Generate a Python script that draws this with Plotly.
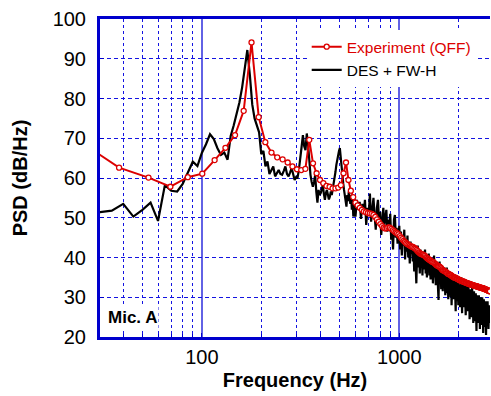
import numpy as np
import plotly.graph_objects as go

# ---------------- data ----------------
# Experiment (QFF): frequency grid of ~15.6 Hz
exp_freq = [22.5 + 15.6 * k for k in range(184)]
exp_psd = [
    70.2, 62.6, 60.1, 57.8, 60.2, 61.1, 64.5, 67.6, 70.8, 76.9,
    94.1, 75.3, 69.0, 66.4, 65.2, 64.7, 63.9, 62.9, 62.2, 62.0,
    62.3, 69.6, 63.7, 61.2, 59.5, 58.7, 58.0, 57.8, 57.4, 57.4,
    57.6, 58.2, 61.2, 63.9, 59.5, 56.8, 55.2, 53.8, 53.1, 52.5,
    52.0, 51.6, 51.4, 51.2, 51.1, 51.0, 50.7, 50.2, 49.6, 49.0,
    48.4, 47.9, 47.5, 47.3, 47.4, 47.6, 47.5, 47.2, 46.9, 46.6,
    46.3, 46.1, 45.8, 45.4, 45.0, 44.6, 44.2, 43.9, 43.6, 43.4,
    43.2, 43.0, 42.8, 42.7, 42.6, 42.4, 42.2, 41.9, 41.6, 41.3,
    41.1, 40.9, 40.8, 40.7, 40.6, 40.4, 40.1, 39.9, 39.7, 39.5,
    39.4, 39.2, 39.0, 38.9, 38.8, 38.6, 38.4, 38.2, 38.0, 37.9,
    37.8, 37.7, 37.5, 37.3, 37.0, 36.8, 36.7, 36.6, 36.5, 36.4,
    36.2, 36.0, 35.9, 35.8, 35.7, 35.6, 35.5, 35.3, 35.2, 35.1,
    35.0, 34.9, 34.9, 34.8, 34.7, 34.6, 34.5, 34.4, 34.3, 34.3,
    34.2, 34.1, 34.0, 34.0, 33.9, 33.9, 33.8, 33.7, 33.7, 33.6,
    33.5, 33.5, 33.4, 33.4, 33.3, 33.3, 33.2, 33.2, 33.1, 33.1,
    33.0, 33.0, 32.9, 32.9, 32.8, 32.8, 32.8, 32.7, 32.7, 32.6,
    32.6, 32.5, 32.5, 32.5, 32.4, 32.4, 32.3, 32.3, 32.3, 32.2,
    32.2, 32.1, 32.1, 32.0, 32.0, 31.9, 31.9, 31.8, 31.8, 31.7,
    31.6, 31.6, 31.5, 31.5,
]

# DES + FW-H: 5 Hz grid up to 595 Hz, then 10 Hz grid
des_freq = list(range(30, 600, 5)) + list(range(600, 2890, 10))
des_psd_low = [
    51.4, 51.8, 53.5, 50.3, 52.0, 53.8, 49.2, 58.2, 56.8, 56.6,
    58.5, 61.5, 64.1, 63.0, 66.3, 68.5, 71.0, 69.8, 67.5, 65.8,
    66.4, 64.6, 70.6, 73.2, 76.0, 79.0, 82.8, 88.0, 92.2, 86.0,
    78.5, 75.0, 73.2, 71.5, 66.0, 66.8, 62.9, 64.2, 61.0, 62.0,
    62.9, 60.4, 61.3, 62.0, 61.0, 60.8, 61.8, 62.9, 61.0, 60.4,
    61.4, 62.5, 61.0, 59.5, 60.2, 59.9, 62.0, 64.5, 67.8, 70.8,
    68.0, 67.0, 71.2, 68.5, 63.0, 60.8, 59.0, 57.8, 59.0, 60.8,
    56.5, 53.8, 57.0, 55.7, 56.2, 57.0, 58.2, 56.0, 54.5, 56.2,
    57.0, 55.8, 54.6, 55.3, 56.6, 55.7, 57.0, 58.5, 60.0, 61.5,
    63.3, 64.8, 66.2, 66.8, 67.5, 65.0, 62.0, 60.0, 58.7, 57.0,
    55.3, 54.0, 52.8, 55.7, 54.2, 56.6, 55.0, 53.5, 55.7, 52.0,
    54.8, 50.3, 53.0, 54.5,
]
des_psd_high = [
    50.3, 54.5, 52.0, 54.0, 49.7, 53.5, 51.0, 54.5, 48.2, 52.5,
    50.5, 56.1, 49.0, 53.0, 55.0, 50.5, 47.0, 52.5, 54.5, 49.0,
    51.5, 45.7, 50.0, 52.5, 48.0, 50.5, 52.0, 46.5, 49.5, 48.2,
    51.0, 44.5, 46.9, 42.0, 49.5, 50.7, 45.0, 47.5, 43.5, 44.4,
    48.0, 42.0, 46.5, 40.5, 45.0, 43.0, 47.0, 39.5, 44.0, 41.5,
    45.5, 40.0, 43.5, 38.5, 44.0, 41.0, 43.0, 39.0, 42.5, 36.5,
    41.5, 38.0, 33.5, 40.5, 43.0, 37.5, 41.0, 36.0, 42.0, 38.5,
    40.0, 35.5, 41.5, 37.0, 39.5, 42.0, 36.0, 39.0, 35.0, 40.5,
    37.5, 41.0, 35.5, 38.5, 34.5, 40.0, 36.5, 39.0, 33.5, 38.0,
    40.5, 35.0, 37.5, 33.0, 39.0, 36.0, 38.5, 32.5, 29.3, 36.0,
    39.0, 34.0, 37.0, 32.0, 38.0, 35.0, 31.5, 36.5, 33.0, 37.5,
    34.5, 30.5, 36.0, 33.0, 37.5, 31.0, 35.0, 29.5, 34.5, 36.5,
    32.0, 35.5, 30.0, 34.0, 28.0, 33.5, 36.0, 31.0, 34.5, 29.5,
    33.0, 35.5, 30.5, 26.5, 33.5, 31.0, 35.0, 29.0, 32.5, 28.0,
    34.0, 30.0, 32.5, 27.5, 33.0, 29.0, 35.0, 30.5, 26.0, 32.0,
    29.0, 33.5, 27.5, 31.0, 34.0, 28.5, 31.5, 25.5, 30.5, 33.0,
    28.0, 31.0, 26.5, 30.0, 33.0, 27.0, 30.5, 24.5, 29.0, 32.0,
    27.5, 30.0, 25.0, 29.5, 32.5, 26.5, 29.0, 23.5, 28.5, 31.5,
    27.0, 29.5, 24.0, 28.0, 31.0, 25.5, 21.5, 27.5, 30.5, 26.0,
    29.0, 23.5, 27.0, 30.5, 25.0, 28.5, 22.0, 26.5, 30.0, 24.5,
    28.0, 23.0, 27.5, 30.0, 24.0, 27.0, 21.0, 26.0, 29.5, 23.5,
    27.5, 22.5, 26.0, 29.0, 24.5, 20.5, 25.5, 28.5, 23.0, 26.5,
    29.0, 24.0, 27.0, 22.0, 25.5, 28.0, 23.5, 26.0, 24.0,
]
des_psd = des_psd_low + des_psd_high

x_major_ticks = [100, 1000]
x_minor_ticks = [40, 50, 60, 70, 80, 90, 200, 300, 400, 500, 600, 700, 800, 900, 2000]
y_ticks = [20, 30, 40, 50, 60, 70, 80, 90, 100]

# ---------------- figure ----------------
BLUE = "rgb(0,0,205)"
GRID = "rgb(20,20,225)"
FONT = "Liberation Sans, Arial, sans-serif"

fig = go.Figure()
fig.add_trace(go.Scatter(
    x=des_freq, y=des_psd, mode="lines", name="DES + FW-H",
    line=dict(color="black", width=2.2),
))
fig.add_trace(go.Scatter(
    x=exp_freq, y=exp_psd, mode="lines+markers",
    name="<span style='color:rgb(220,0,0)'>Experiment (QFF)</span>",
    line=dict(color="rgb(220,0,0)", width=2),
    marker=dict(symbol="circle", size=5, color="white",
                line=dict(color="rgb(220,0,0)", width=1.3)),
))

fig.update_xaxes(
    type="log", range=[np.log10(30.5), np.log10(2880)],
    tickvals=x_major_ticks, ticktext=[str(v) for v in x_major_ticks],
    showgrid=True, gridcolor="rgba(70,70,225,0.85)", gridwidth=1.5,
    minor=dict(tickvals=x_minor_ticks, showgrid=True, gridcolor=GRID,
               griddash="3px,3px", gridwidth=1, ticks="inside", ticklen=3,
               tickcolor=BLUE),
    showline=True, linecolor=BLUE, linewidth=3, mirror=True,
    ticks="inside", ticklen=4, tickcolor=BLUE,
    zeroline=False,
    tickfont=dict(family=FONT, size=20, color="black"),
    title=dict(text="<b>Frequency (Hz)</b>", font=dict(family=FONT, size=20, color="black"),
               standoff=6),
)
fig.update_yaxes(
    range=[20, 100], tickvals=y_ticks,
    showgrid=True, gridcolor=GRID, griddash="4px,3px", gridwidth=1,
    showline=True, linecolor=BLUE, linewidth=3, mirror=False,
    ticks="inside", ticklen=4, tickcolor=BLUE,
    zeroline=False,
    ticklabelstandoff=7,
    tickfont=dict(family=FONT, size=20, color="black"),
    title=dict(text="<b>PSD (dB/Hz)</b>", font=dict(family=FONT, size=20, color="black"),
               standoff=20),
)

fig.add_annotation(
    x=0.0, y=0.0, xref="paper", yref="paper", xanchor="left", yanchor="bottom",
    xshift=6, yshift=8,
    text="<b>Mic. A</b>", showarrow=False, bgcolor="white",
    font=dict(family=FONT, size=17, color="black"),
)

fig.update_layout(
    width=491, height=396,
    margin=dict(l=100, r=1, t=19, b=59),
    paper_bgcolor="white", plot_bgcolor="white",
    showlegend=True,
    legend=dict(x=0.53, y=0.965, xanchor="left", yanchor="top",
                bgcolor="white", borderwidth=0, traceorder="reversed",
                font=dict(family=FONT, size=15.5, color="black"),
                tracegroupgap=0, itemwidth=30),
)

fig.write_html("out.html")
